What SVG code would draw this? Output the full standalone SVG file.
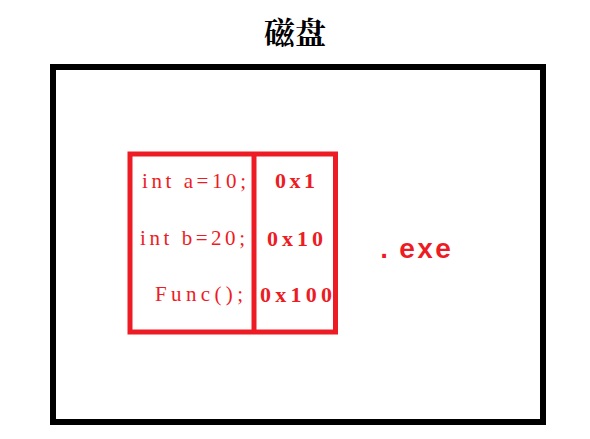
<svg xmlns="http://www.w3.org/2000/svg" width="590" height="439" viewBox="0 0 590 439">
<style>
.red{fill:none;stroke:#ED1C24;stroke-width:5}
.code{font-family:"Liberation Serif",serif;font-size:21px;fill:#ED1C24}
.addr{font-family:"Liberation Serif",serif;font-size:22px;font-weight:bold;fill:#ED1C24}
</style>
<rect width="590" height="439" fill="#fff"/>
<g id="title">
<text x="295" y="44" text-anchor="middle" font-family="'Noto Serif CJK SC','Noto Sans CJK SC',serif" font-weight="bold" font-size="31" fill="#000">磁盘</text>
</g>
<g id="disk">
<rect x="53" y="67" width="490" height="355" fill="none" stroke="#000" stroke-width="6"/>
</g>
<g id="table">
<rect class="red" x="130" y="154" width="205.5" height="178"/>
<line class="red" x1="254" y1="154" x2="254" y2="332"/>
<text class="code" x="142" y="188" textLength="104" lengthAdjust="spacing">int a=10;</text>
<text class="code" x="140" y="245" textLength="105" lengthAdjust="spacing">int b=20;</text>
<text class="code" x="155" y="301" textLength="88" lengthAdjust="spacing">Func();</text>
<text class="addr" x="275" y="188" textLength="40" lengthAdjust="spacing">0x1</text>
<text class="addr" x="267" y="246" textLength="56" lengthAdjust="spacing">0x10</text>
<text class="addr" x="260" y="302" textLength="72" lengthAdjust="spacing">0x100</text>
</g>
<g id="exe">
<text x="376 399 417 435" y="258" font-family="'Liberation Mono',monospace" font-weight="bold" font-size="27" fill="#ED1C24">.exe</text>
</g>
<g id="connectors"></g>
</svg>
